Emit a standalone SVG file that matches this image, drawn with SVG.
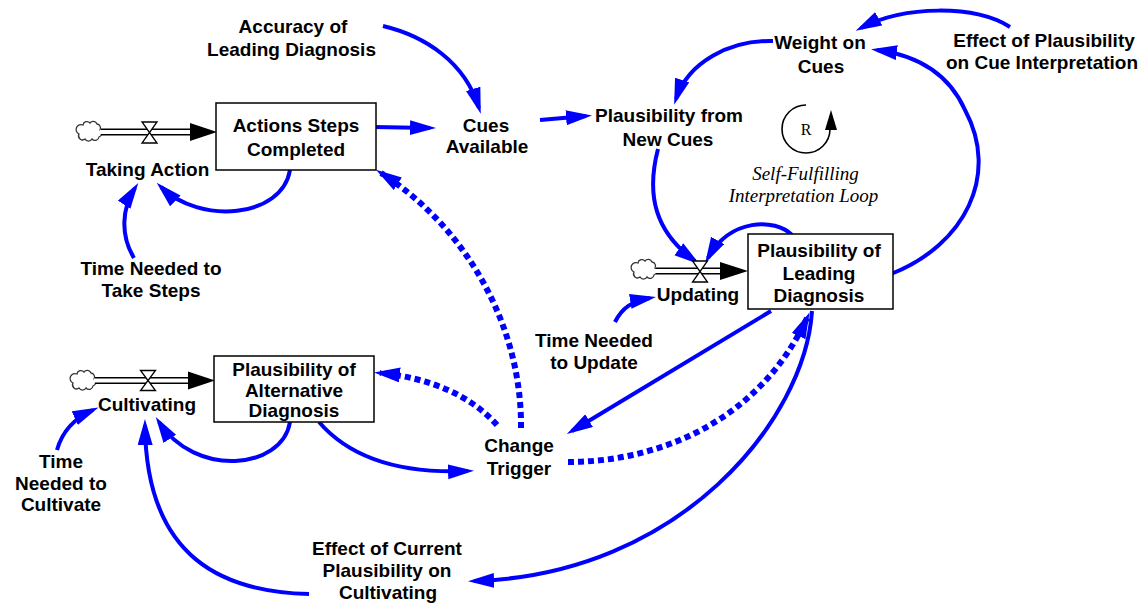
<svg xmlns="http://www.w3.org/2000/svg" width="1146" height="605" viewBox="0 0 1146 605">
<style>
  .lbl{font-family:"Liberation Sans",Arial,sans-serif;font-weight:bold;font-size:19px;fill:#000;text-anchor:middle}
  .loop{font-family:"Liberation Serif","Times New Roman",serif;font-style:italic;font-size:19px;fill:#000;text-anchor:middle}
  .box{fill:#fff;stroke:#000;stroke-width:1.5}
  .link{fill:none;stroke:#0000ff;stroke-width:4;marker-end:url(#ah)}
  .dot{fill:none;stroke:#0000ff;stroke-width:6;stroke-dasharray:6 4;marker-end:url(#ah)}
  .pipeo{stroke:#000;stroke-width:7;fill:none}
  .pipei{stroke:#fff;stroke-width:4;fill:none}
  .valve{fill:#fff;stroke:#000;stroke-width:1.3}
  .cloud{fill:#fff;stroke:#333;stroke-width:1.3}
</style>
<defs>
  <marker id="ah" markerUnits="userSpaceOnUse" markerWidth="30" markerHeight="20" refX="20" refY="7.5" orient="auto">
    <path d="M0,0 L26,7.5 L0,15 z" fill="#0000ff"/>
  </marker>
  <path id="cloudshape" d="M-8,-6 a4,4 0 0,1 7,-2 a4,4 0 0,1 7,1 a4,4 0 0,1 3,6 a4,4 0 0,1 -1,7 a4,4 0 0,1 -7,2 a4,4 0 0,1 -7,0 a4,4 0 0,1 -6,-5 a4,4 0 0,1 4,-9 z"/>
</defs>
<rect width="1146" height="605" fill="#fff"/>

<g id="connectors">
  <path class="link" d="M374,127 L430,128"/>
  <path class="link" d="M383,26 C425,36 465,62 479,108"/>
  <path class="link" d="M540,120 L586,116"/>
  <path class="link" d="M773,41 C730,40 688,62 676,99"/>
  <path class="link" d="M1010,27 C975,5 905,5 861,28"/>
  <path class="link" d="M891,274 C965,245 1000,175 965,110 C948,72 915,55 877,50"/>
  <path class="link" d="M658,149 C646,195 655,232 695,261"/>
  <path class="link" d="M792,235 C775,218 730,218 708,258"/>
  <path class="link" d="M615,322 C622,308 632,301 650,298"/>
  <path class="link" d="M771,311 L572,431"/>
  <path class="dot" d="M568,462 C660,462 760,420 807,318"/>
  <path class="link" d="M812,311 C805,420 680,575 474,581"/>
  <path class="link" d="M309,594 C225,592 146,560 145,425"/>
  <path class="link" d="M290,422 C282,470 195,478 159,422"/>
  <path class="link" d="M319,422 C350,458 400,474 468,471"/>
  <path class="dot" d="M497,425 C470,395 430,378 380,373"/>
  <path class="dot" d="M521,428 C522,330 470,230 381,173"/>
  <path class="link" d="M290,170 C282,218 200,225 161,187"/>
  <path class="link" d="M134,258 C120,235 122,208 135,188"/>
  <path class="link" d="M57,450 C62,432 75,418 93,410"/>
</g>

<g id="taking-action">
  <use href="#cloudshape" class="cloud" transform="translate(91,131)"/>
  <line class="pipeo" x1="101" y1="132" x2="192" y2="132"/>
  <line class="pipei" x1="100" y1="132" x2="192" y2="132"/>
  <polygon points="190,123 217,132 190,141" fill="#000"/>
  <polygon class="valve" points="142,122 157,122 149.5,132.5 157,143 142,143 149.5,132.5"/>
  <text class="lbl" x="147.5" y="176">Taking Action</text>
</g>

<g id="actions-steps-completed">
  <rect class="box" x="216" y="103" width="160" height="67"/>
  <text class="lbl" x="296" y="132">Actions Steps</text>
  <text class="lbl" x="296" y="156">Completed</text>
</g>

<g id="accuracy">
  <text class="lbl" x="293" y="33">Accuracy of</text>
  <text class="lbl" x="291.5" y="56">Leading Diagnosis</text>
</g>

<g id="cues-available">
  <text class="lbl" x="486" y="132">Cues</text>
  <text class="lbl" x="487" y="153">Available</text>
</g>

<g id="plausibility-new-cues">
  <text class="lbl" x="669" y="122">Plausibility from</text>
  <text class="lbl" x="668" y="146">New Cues</text>
</g>

<g id="weight-on-cues">
  <text class="lbl" x="820" y="49">Weight on</text>
  <text class="lbl" x="821" y="73">Cues</text>
</g>

<g id="effect-plausibility-cue">
  <text class="lbl" x="1044" y="47">Effect of Plausibility</text>
  <text class="lbl" x="1042" y="69">on Cue Interpretation</text>
</g>

<g id="loop-r">
  <path d="M806,105 A24,24 0 1 0 830,129" fill="none" stroke="#000" stroke-width="1.6"/>
  <polygon points="825,130 837,130 831,110" fill="#000"/>
  <text x="806" y="135" font-family="'Liberation Serif','Times New Roman',serif" font-size="16" text-anchor="middle">R</text>
  <text class="loop" x="805.5" y="180">Self-Fulfilling</text>
  <text class="loop" x="803.5" y="202">Interpretation Loop</text>
</g>

<g id="updating">
  <use href="#cloudshape" class="cloud" transform="translate(646,269)"/>
  <line class="pipeo" x1="656" y1="271" x2="722" y2="271"/>
  <line class="pipei" x1="655" y1="271" x2="722" y2="271"/>
  <polygon points="720,262 748,271 720,280" fill="#000"/>
  <polygon class="valve" points="692.5,261 707.5,261 700,271.5 707.5,282 692.5,282 700,271.5"/>
  <text class="lbl" x="698" y="301">Updating</text>
</g>

<g id="plausibility-leading">
  <rect class="box" x="748" y="234" width="145" height="75"/>
  <text class="lbl" x="819" y="257">Plausibility of</text>
  <text class="lbl" x="819" y="279.5">Leading</text>
  <text class="lbl" x="819" y="302">Diagnosis</text>
</g>

<g id="time-update">
  <text class="lbl" x="594" y="347">Time Needed</text>
  <text class="lbl" x="594" y="369">to Update</text>
</g>

<g id="time-steps">
  <text class="lbl" x="151" y="275">Time Needed to</text>
  <text class="lbl" x="151" y="297">Take Steps</text>
</g>

<g id="cultivating">
  <use href="#cloudshape" class="cloud" transform="translate(85,380)"/>
  <line class="pipeo" x1="95" y1="380.5" x2="190" y2="380.5"/>
  <line class="pipei" x1="94" y1="380.5" x2="190" y2="380.5"/>
  <polygon points="188,371.5 215,380.5 188,389.5" fill="#000"/>
  <polygon class="valve" points="140.5,370.5 155.5,370.5 148,380.5 155.5,390.5 140.5,390.5 148,380.5"/>
  <text class="lbl" x="147" y="411">Cultivating</text>
</g>

<g id="plausibility-alternative">
  <rect class="box" x="214" y="356" width="160" height="66"/>
  <text class="lbl" x="294" y="376">Plausibility of</text>
  <text class="lbl" x="294" y="396.5">Alternative</text>
  <text class="lbl" x="294" y="416.5">Diagnosis</text>
</g>

<g id="time-cultivate">
  <text class="lbl" x="61" y="468">Time</text>
  <text class="lbl" x="61" y="490">Needed to</text>
  <text class="lbl" x="61" y="511">Cultivate</text>
</g>

<g id="change-trigger">
  <text class="lbl" x="519" y="452">Change</text>
  <text class="lbl" x="519" y="474.5">Trigger</text>
</g>

<g id="effect-current">
  <text class="lbl" x="387" y="555">Effect of Current</text>
  <text class="lbl" x="387" y="577">Plausibility on</text>
  <text class="lbl" x="388" y="599">Cultivating</text>
</g>
</svg>
